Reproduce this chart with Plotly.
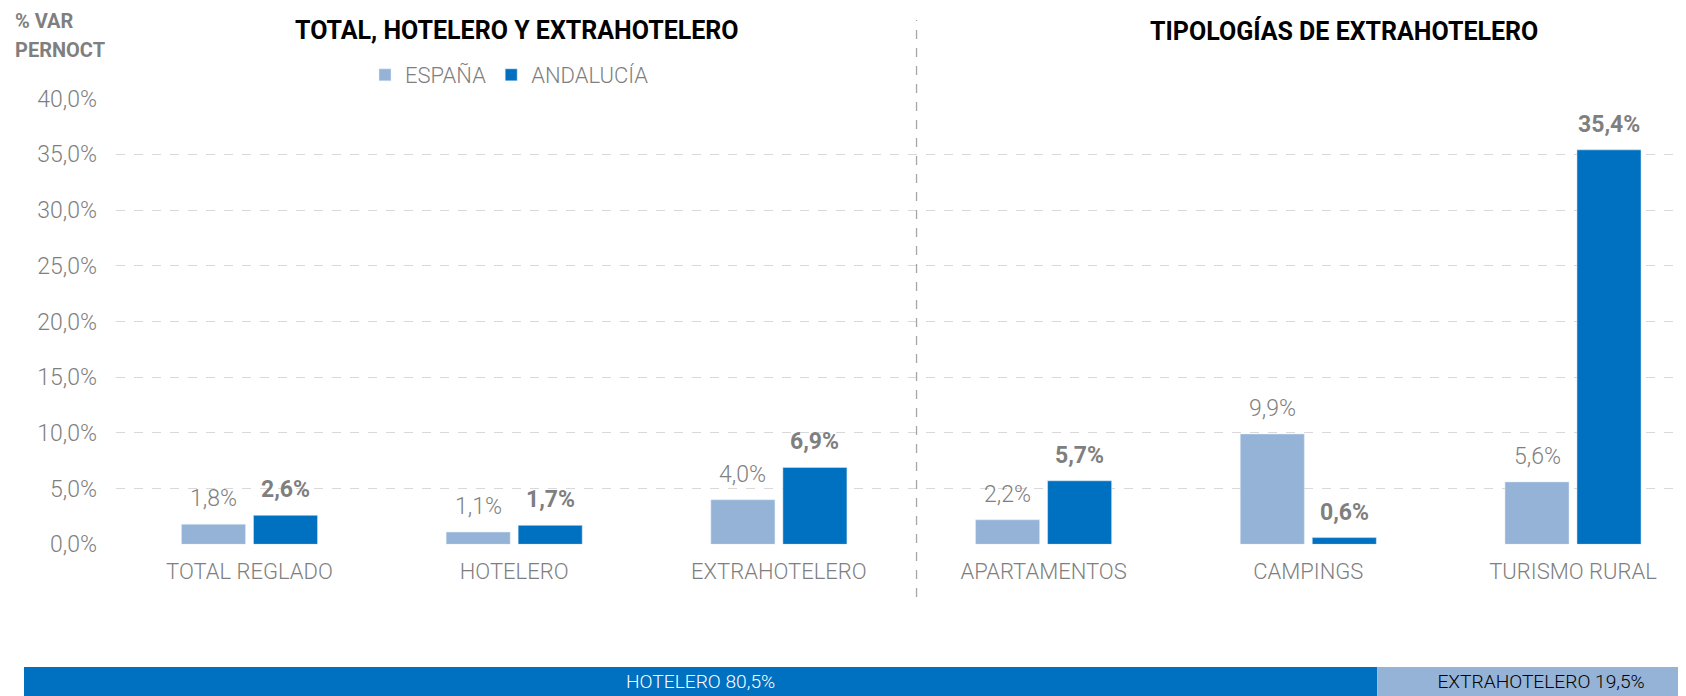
import plotly.graph_objects as go

categories = ["TOTAL REGLADO", "HOTELERO", "EXTRAHOTELERO", "APARTAMENTOS", "CAMPINGS", "TURISMO RURAL"]
espana = [1.8, 1.1, 4.0, 2.2, 9.9, 5.6]
andalucia = [2.6, 1.7, 6.9, 5.7, 0.6, 35.4]
y_ticks = [0, 5, 10, 15, 20, 25, 30, 35, 40]
share_names = ["HOTELERO", "EXTRAHOTELERO"]
share_values = [80.5, 19.5]

C_ESP = "#95B3D7"
C_AND = "#0070C0"
GRAY = "#7F7F7F"
NARROW = "Liberation Sans Narrow, Arial Narrow, Roboto, sans-serif"

# page body has an 8px default margin: figure is placed at (8, 8)
OFF = 8
PW, PH = 1686, 696
W, H = PW - OFF, PH - OFF
px = lambda x: (x - OFF) / W          # page x -> paper fraction
py = lambda y: 1 - (y - OFF) / H      # page y -> paper fraction
fmt = lambda v: f"{v:.1f}".replace(".", ",") + "%"

xpos = list(range(len(categories)))
bw = 0.242
gap = 0.03

fig = go.Figure()
fig.add_trace(go.Bar(
    x=xpos, y=espana, name="ESPAÑA", marker_color=C_ESP,
    width=bw, offset=-(bw + gap / 2), xaxis="x", yaxis="y",
))
fig.add_trace(go.Bar(
    x=xpos, y=andalucia, name="ANDALUCÍA", marker_color=C_AND,
    width=bw, offset=gap / 2, xaxis="x", yaxis="y",
))

# bottom share bar
base = 0
share_colors = [C_AND, C_ESP]
share_text_col = ["white", "black"]
for n, v, c, tc in zip(share_names, share_values, share_colors, share_text_col):
    fig.add_trace(go.Bar(
        y=[0], x=[v], base=[base], orientation="h", width=1,
        marker=dict(color=c, line=dict(width=0)),
        text=[f"{n} {fmt(v)}"], textposition="inside", insidetextanchor="middle",
        textangle=0, textfont=dict(color=tc, size=20, family=NARROW, weight=300),
        xaxis="x2", yaxis="y2", showlegend=False, hoverinfo="skip",
    ))
    base += v

annotations = []
for i, (e, a) in enumerate(zip(espana, andalucia)):
    annotations.append(dict(
        x=i - (bw / 2 + gap / 2), y=e, xref="x", yref="y", text=fmt(e),
        showarrow=False, yanchor="bottom", yshift=10,
        font=dict(family=NARROW, size=23, color=GRAY, weight=300),
    ))
    annotations.append(dict(
        x=i + (bw / 2 + gap / 2), y=a, xref="x", yref="y", text=f"<b>{fmt(a)}</b>",
        showarrow=False, yanchor="bottom", yshift=10,
        font=dict(family=NARROW, size=23, color=GRAY),
    ))

annotations += [
    dict(x=px(13), y=py(21), xref="paper", yref="paper", xanchor="left", yanchor="middle",
         text="<b>% VAR</b>", showarrow=False, font=dict(family=NARROW, size=20, color=GRAY)),
    dict(x=px(13), y=py(50), xref="paper", yref="paper", xanchor="left", yanchor="middle",
         text="<b>PERNOCT</b>", showarrow=False, font=dict(family=NARROW, size=20, color=GRAY)),
    dict(x=px(517), y=py(31), xref="paper", yref="paper", xanchor="center", yanchor="middle",
         text="<b>TOTAL, HOTELERO Y EXTRAHOTELERO</b>", showarrow=False,
         font=dict(family=NARROW, size=25, color="black")),
    dict(x=px(1344), y=py(31), xref="paper", yref="paper", xanchor="center", yanchor="middle",
         text="<b>TIPOLOGÍAS DE EXTRAHOTELERO</b>", showarrow=False,
         font=dict(family=NARROW, size=25, color="black")),
]

x0_px = 116
cat_px = 264.7
xr0 = -(249.5 - x0_px) / cat_px
xr1 = xr0 + (PW - x0_px) / cat_px

y0_px, y40_px = 544.3, 98.6

shapes = [dict(
    type="line", xref="x", yref="paper", x0=2.52, x1=2.52,
    y0=py(597), y1=py(20),
    line=dict(color="#A6A6A6", width=1.3, dash="dash"),
)]

fig.update_layout(
    width=W, height=H,
    margin=dict(l=0, r=0, t=0, b=0, autoexpand=False),
    paper_bgcolor="white", plot_bgcolor="white",
    barmode="overlay",
    separators=",.",
    showlegend=True,
    legend=dict(
        orientation="h", xref="container", yref="container",
        x=px(365), y=py(75), xanchor="left", yanchor="middle",
        font=dict(family=NARROW, size=22, color=GRAY, weight=300),
        itemwidth=30, tracegroupgap=0, traceorder="normal",
        bgcolor="rgba(0,0,0,0)",
    ),
    xaxis=dict(
        domain=[px(x0_px), 1], range=[xr0, xr1],
        tickvals=xpos, ticktext=categories, showgrid=False, zeroline=False,
        showline=False, ticks="", ticklabelstandoff=12,
        tickfont=dict(family=NARROW, size=22, color=GRAY, weight=300), fixedrange=True,
        automargin=False,
    ),
    yaxis=dict(
        domain=[py(y0_px), py(y40_px)], range=[0, 40],
        tickvals=y_ticks, ticktext=[fmt(v) for v in y_ticks],
        showgrid=True, gridcolor="#D9D9D9", griddash="dash", gridwidth=1,
        zeroline=False, showline=False, ticks="", ticklabelstandoff=18,
        tickfont=dict(family=NARROW, size=23, color=GRAY, weight=300), automargin=False,
    ),
    xaxis2=dict(
        domain=[px(24), 1], range=[0, 100 * (PW - 24) / 1681], anchor="y2",
        visible=False, fixedrange=True,
    ),
    yaxis2=dict(
        domain=[0, py(667)], range=[-0.5, 0.5], anchor="x2", visible=False,
    ),
    annotations=annotations,
    shapes=shapes,
)

fig.write_html("out.html")
